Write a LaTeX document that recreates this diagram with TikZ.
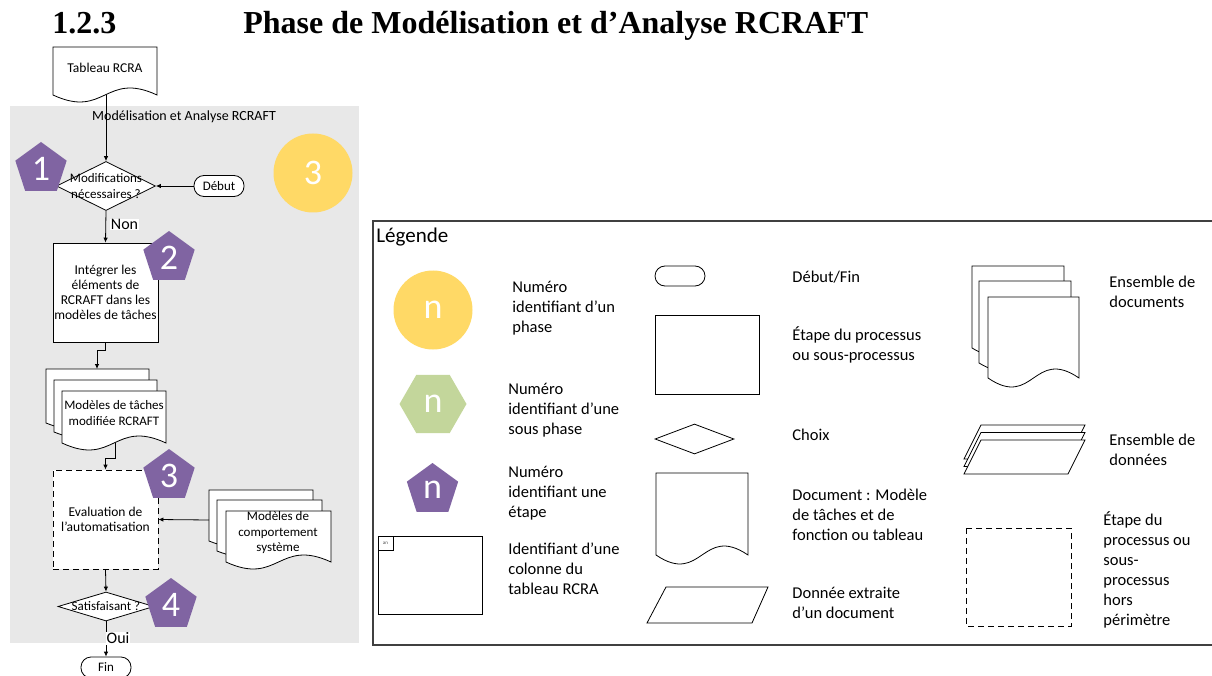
\documentclass[tikz,border=0pt]{standalone}
\usepackage{fontspec}
\setmainfont{Carlito}
\newfontfamily\serifttl{Liberation Serif}
\usetikzlibrary{arrows.meta,shapes.geometric}

\definecolor{stepPurple}{HTML}{8064A2}
\definecolor{phaseYellow}{HTML}{FFD966}
\definecolor{subGreen}{HTML}{C3D69B}
\definecolor{bgGray}{HTML}{E8E8E8}
\definecolor{legLine}{HTML}{404040}

\newcommand{\titfont}{\serifttl\bfseries\fontsize{32}{34}\selectfont}
\newcommand{\flowfont}{\fontsize{13}{15.5}\selectfont}
\newcommand{\boxfont}{\fontsize{13.5}{15}\selectfont}
\newcommand{\legfont}{\fontsize{16.5}{20}\selectfont}
\newcommand{\numfont}{\fontsize{36}{36}\selectfont}
\newcommand{\lblfont}{\fontsize{16}{18}\selectfont}

% document shape: [opts]{x1}{ytop}{x2}{ybottom}{wave depth}
\newcommand{\mydoc}[6][]{\draw[fill=white,line width=0.8pt,#1] (#2,#3) -- (#4,#3) -- (#4,#5)
  .. controls ({(#2+#4)/2},{#5-3.46*#6}) and ({(#2+#4)/2},{#5+3.46*#6}) .. (#2,#5) -- cycle;}

\begin{document}
\begin{tikzpicture}[x=1pt,y=-1pt,
  line width=0.8pt,
  arr/.style={draw, line width=0.8pt, -{Latex[length=5pt,width=4.5pt]}},
  flowtext/.style={font=\flowfont, align=center, inner sep=0pt},
  legtext/.style={font=\legfont, align=left, anchor=west, inner sep=0pt},
  term/.style={draw, fill=white, rounded corners=10pt, minimum width=50pt, minimum height=21pt, inner sep=0pt, font=\flowfont},
  procbox/.style={draw, fill=white, minimum width=105pt, minimum height=99pt, inner sep=0pt, align=center, font=\boxfont},
  choice/.style={diamond, draw, fill=white, inner sep=0pt},
  steppent/.style={regular polygon, regular polygon sides=5, minimum size=54pt, inner sep=0pt, fill=stepPurple, text=white, font=\numfont},
  phasecirc/.style={circle, minimum size=79pt, inner sep=0pt, fill=phaseYellow, text=white, font=\numfont},
  yesno/.style={fill=white, inner sep=0.8pt, font=\lblfont},
  outdash/.style={dash pattern=on 6pt off 4pt}
]
\useasboundingbox (0,0) rectangle (1212,676);
\clip (0,0) rectangle (1212,676);

% ---------- title ----------
\node[anchor=base west, inner sep=0pt, font=\titfont] (secnum) at (52,34) {1.2.3};
\node[anchor=base west, inner sep=0pt, font=\titfont] (sectitle) at (243,34) {Phase de Modélisation et d’Analyse RCRAFT};

% ---------- flowchart background ----------
\fill[bgGray] (10,106) rectangle (359,643);
\node[flowtext, font=\fontsize{14}{16}\selectfont] (phasettl) at (184,117) {Modélisation et Analyse RCRAFT};

% Tableau RCRA document
\mydoc{53}{47}{157}{95}{7}
\node[flowtext, font=\fontsize{13.5}{15}\selectfont] (tab) at (105,68) {Tableau RCRA};
\coordinate (tabB) at (106,95);

% decision 1
\node[choice, minimum width=99pt, minimum height=49pt] (q1) at (106,186) {};
\node[flowtext] (q1t) at (106,186) {Modifications\\nécessaires ?};
\node[term] (debut) at (219,186) {Début};

% step 2 box
\node[procbox] (integ) at (105.5,292.5) {Intégrer les\\éléments de\\RCRAFT dans les\\modèles de tâches};

% document set 1
\mydoc{46}{369}{149}{423}{6}
\mydoc{54}{380}{157}{432}{6}
\mydoc{62}{391}{166}{443}{7}
\node[flowtext, text depth=0pt] (mt) at (114,413) {Modèles de tâches\\modifiée RCRAFT};
\coordinate (ds1T) at (97,369);
\coordinate (ds1B) at (115,443);

% evaluation (dashed)
\node[procbox, outdash] (eval) at (105.5,519.5) {Evaluation de\\l’automatisation};

% document set 2
\mydoc{209}{490}{313}{541}{6}
\mydoc{217}{500}{322}{551}{6}
\mydoc{226}{511}{331}{562}{7}
\node[flowtext] (mc) at (278,533) {Modèles de\\comportement\\système};
\coordinate (ds2L) at (209,520);

% decision 2
\node[choice, minimum width=96pt, minimum height=29pt] (q2) at (106,606.5) {};
\node[flowtext] (q2t) at (106,606.5) {Satisfaisant ?};
\node[term] (fin) at (106,667.5) {Fin};

% connectors
\draw[arr] (tabB) -- (q1.north);
\draw[arr] (debut.west) -- (q1.east);
\draw[arr] (q1.south) -- (integ.north);
\draw[arr] (integ.south) -- ++(0,8) -| (ds1T);
\draw[arr] (ds1B) -- ++(0,15) -| (eval.north);
\draw[arr] (ds2L) -- (eval.east);
\draw[arr] (eval.south) -- (q2.north);
\draw[arr] (q2.south) -- (fin.north);
\node[yesno] (non) at (124.5,224.5) {Non};
\node[yesno] (oui) at (118,638.5) {Oui};

% markers
\node[steppent] (p1) at (41,169) {1};
\node[steppent] (p2) at (169,258) {2};
\node[steppent] (p3) at (169,476) {3};
\node[steppent] (p4) at (171,605) {4};
\node[phasecirc] (ph3) at (313,173) {3};

% ---------- legend ----------
\draw[legLine, line width=1.4pt] (373,221) rectangle (1240,645);
\node[anchor=west, inner sep=0pt, font=\fontsize{21}{24}\selectfont] (legt) at (376,237.5) {Légende};

\node[phasecirc] (lgphase) at (433,310) {n};
\node[legtext] (lgphaset) at (512,308) {Numéro\\identifiant d’un\\phase};

\node[regular polygon, regular polygon sides=6, minimum size=67pt, inner sep=0pt, fill=subGreen, text=white, font=\numfont] (lgsub) at (433,404) {n};
\node[legtext] (lgsubt) at (508,410) {Numéro\\identifiant d’une\\sous phase};

\node[steppent] (lgstep) at (432.5,490) {n};
\node[legtext] (lgstept) at (508,493) {Numéro\\identifiant une\\étape};

\draw[line width=0.8pt] (378,536) rectangle (482,614);
\draw[line width=0.8pt] (378,536) rectangle (393,550);
\node[inner sep=0pt, font=\fontsize{5}{5}\selectfont, text=black!70] (lgan) at (385.5,543) {an};
\node[legtext] (lgcolt) at (508,569) {Identifiant d’une\\colonne du\\tableau RCRA};

\node[term, minimum height=20pt] (lgterm) at (680,276) {};
\node[legtext] (lgtermt) at (792,277) {Début/Fin};

\draw[line width=0.8pt] (655,315) rectangle (759,394);
\node[legtext] (lgproct) at (792,345) {Étape du processus\\ou sous-processus};

\node[choice, minimum width=79pt, minimum height=30pt] (lgchoice) at (694.5,439) {};
\node[legtext] (lgchoicet) at (792,435) {Choix};

\mydoc{656}{473}{748}{555}{9}
\node[legtext] (lgdoct) at (792,515) {Document : Modèle\\de tâches et de\\fonction ou tableau};

\draw[line width=0.8pt, fill=white] (666,587) -- (768,587) -- (752,623) -- (647,623) -- cycle;
\node[legtext] (lgdatat) at (792,603) {Donnée extraite\\d’un document};

\mydoc{972}{266}{1064}{348}{8}
\mydoc{979}{281}{1071}{363}{8}
\mydoc{988}{297}{1079}{378}{9}
\node[legtext] (lgdocst) at (1109,292) {Ensemble de\\documents};

\foreach \dy in {0,7.5,15}{
  \draw[line width=0.8pt, fill=white] (981,425+\dy) -- (1085,425+\dy) -- (1068,459+\dy) -- (964,459+\dy) -- cycle;
}
\node[legtext] (lgdatast) at (1109,450) {Ensemble de\\données};

\draw[line width=0.8pt, outdash] (966,528) rectangle (1071,626);
\node[legtext] (lgoutt) at (1103,570) {Étape du\\processus ou\\sous-\\processus\\hors\\périmètre};
\end{tikzpicture}
\end{document}
